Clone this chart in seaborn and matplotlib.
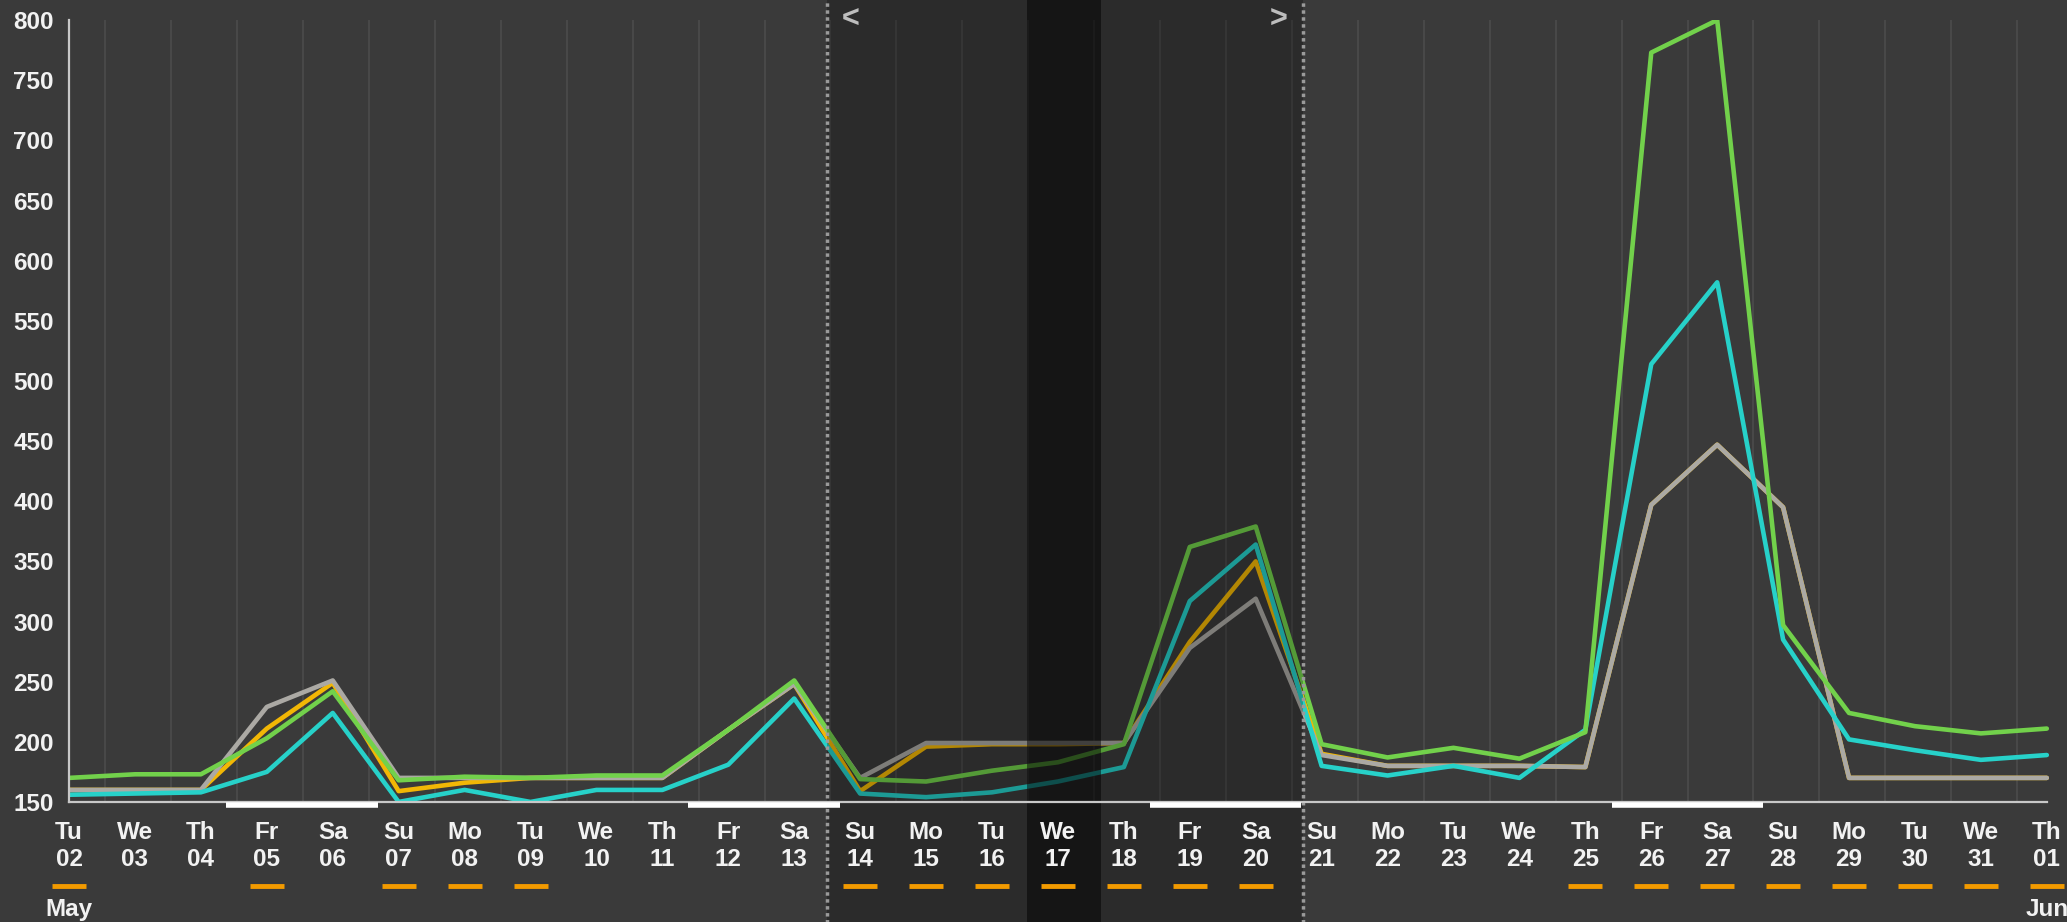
import numpy as np
import pandas as pd
import matplotlib
matplotlib.use('Agg')
import matplotlib.pyplot as plt
import matplotlib.transforms as mtransforms
import seaborn as sns

# Values, one per day (Tu 02 May .. Th 01 Jun)
dows = ['Tu', 'We', 'Th', 'Fr', 'Sa', 'Su', 'Mo'] * 5
dows = dows[:31]
dates = ['02', '03', '04', '05', '06', '07', '08', '09', '10', '11', '12', '13',
         '14', '15', '16', '17', '18', '19', '20', '21', '22', '23', '24', '25',
         '26', '27', '28', '29', '30', '31', '01']

green = [170, 173, 173, 203, 242, 168, 171, 170, 172, 172, 210, 251,
         169, 167, 176, 183, 198, 362, 379, 198, 187, 195, 186, 208,
         773, 800, 297, 224, 213, 207, 211]
cyan = [156, 157, 158, 175, 224, 150, 160, 150, 160, 160, 181, 236,
        157, 154, 158, 167, 179, 317, 364, 180, 172, 180, 170, 210,
        514, 582, 285, 202, 193, 185, 189]
gray = [160, 160, 160, 229, 251, 170, 170, 170, 170, 170, 210, 248,
        170, 199, 199, 199, 199, 278, 319, 189, 180, 180, 180, 179,
        397, 447, 395, 170, 170, 170, 170]
yellow = [160, 160, 160, 211, 249, 159, 166, 170, 170, 170, 210, 248,
          159, 196, 198, 198, 199, 283, 350, 190, 180, 180, 180, 179,
          397, 447, 395, 170, 170, 170, 170]

# days marked with an orange dash under the date
dash_days = [0, 3, 5, 6, 7, 12, 13, 14, 15, 16, 17, 18,
             23, 24, 25, 26, 27, 28, 29, 30]
# white weekend bars on the x axis (start, end) in days
weekend_bars = [(2.38, 4.68), (9.39, 11.69), (16.39, 18.69), (23.4, 25.7)]

bg = '#3a3a3a'
sns.set_theme(style='dark')
plt.rcParams['font.family'] = ['Liberation Sans', 'DejaVu Sans']
plt.rcParams['font.weight'] = 'bold'

days = np.arange(31)
df = pd.DataFrame({
    'day': np.tile(days, 4),
    'value': yellow + gray + cyan + green,
    'series': ['yellow'] * 31 + ['gray'] * 31 + ['cyan'] * 31 + ['green'] * 31,
})
palette = {'yellow': '#f2b705', 'gray': '#aba9a4', 'cyan': '#27d1c9', 'green': '#72d14b'}

fig = plt.figure(figsize=(20.67, 9.22), dpi=100, facecolor=bg)
ax = fig.add_axes([0.0334, 0.1302, 0.9664, 0.848], facecolor=bg)

# vertical grid
for d in days[:-1]:
    ax.axvline(d + 0.55, color='#4b4b4b', lw=1.2, zorder=1)

sns.lineplot(data=df, x='day', y='value', hue='series',
             hue_order=['yellow', 'gray', 'cyan', 'green'],
             palette=palette, linewidth=3.3, legend=False, ax=ax, zorder=2)

ax.set_xlim(0, 30.3)
ax.set_ylim(150, 800)
ax.set_xlabel('')
ax.set_ylabel('')
ax.set_axisbelow(False)

ax.set_yticks(np.arange(150, 801, 50))
ax.set_xticks(days)
ax.set_xticklabels([f'{a}\n{b}' for a, b in zip(dows, dates)], linespacing=1.2)
ax.tick_params(axis='both', colors='#c8c8c8', labelcolor='#f2f2f2',
               labelsize=17.5, length=8, width=1.5, direction='out')
ax.tick_params(axis='x', pad=6)
ax.tick_params(axis='y', pad=3)

for s in ['top', 'right']:
    ax.spines[s].set_visible(False)
for s in ['left', 'bottom']:
    ax.spines[s].set_color('#c8c8c8')
    ax.spines[s].set_linewidth(1.6)
ax.spines['bottom'].set_bounds(0, 30)

trans = mtransforms.blended_transform_factory(ax.transData, ax.transAxes)

# selected-range shading
ax.add_patch(plt.Rectangle((11.49, -0.2), 18.71 - 11.49, 1.25, transform=trans,
                           color='black', alpha=0.26, lw=0, zorder=2.2, clip_on=False))
ax.add_patch(plt.Rectangle((14.53, -0.2), 15.65 - 14.53, 1.25, transform=trans,
                           color='black', alpha=0.49, lw=0, zorder=2.2, clip_on=False))
for xv in [11.49, 18.71]:
    ax.plot([xv, xv], [-0.2, 1.05], transform=trans, color='#9a9a9a', lw=2.5,
            ls=(0, (1, 1)), zorder=2.3, clip_on=False)
ax.text(11.85, 1.0, '<', transform=trans, color='#bdbdbd', fontsize=22,
        ha='center', va='center', zorder=3, clip_on=False)
ax.text(18.35, 1.0, '>', transform=trans, color='#bdbdbd', fontsize=22,
        ha='center', va='center', zorder=3, clip_on=False)

# weekend bars on the axis
for a, b in weekend_bars:
    ax.plot([a, b], [-0.004, -0.004], transform=trans, color='white', lw=4,
            solid_capstyle='butt', zorder=3, clip_on=False)

# orange dashes under dates
ax.plot(dash_days, [-0.108] * len(dash_days), transform=trans, ls='none',
        marker='_', markersize=24, markeredgewidth=3.5, color='#f29a00',
        clip_on=False, zorder=3)

ax.text(0, -0.137, 'May', transform=trans, color='#f2f2f2', fontsize=17.5,
        ha='center', va='center', clip_on=False)
ax.text(30, -0.137, 'Jun', transform=trans, color='#f2f2f2', fontsize=17.5,
        ha='center', va='center', clip_on=False)

fig.savefig('out.png', dpi=100, facecolor=bg)
